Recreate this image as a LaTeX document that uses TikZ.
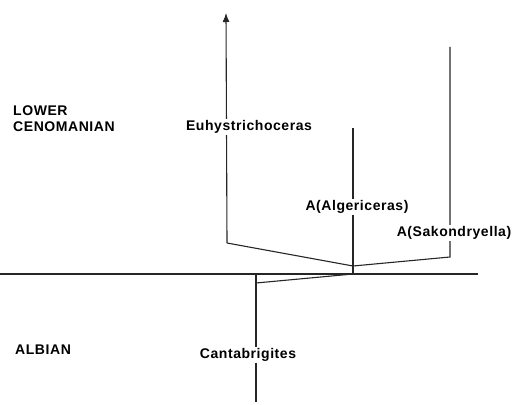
\documentclass[tikz,border=0pt]{standalone}
\usepackage{fontspec}
\setmainfont{Liberation Sans}[LetterSpace=4]
\usetikzlibrary{arrows.meta}
\begin{document}
\begin{tikzpicture}[
    x=1pt, y=-1pt,
    >={Latex[length=9pt,width=7pt]},
    font=\fontsize{14}{16}\selectfont\bfseries,
    lineage/.style={line width=1.1pt, black!85},
    taxon/.style={fill=white, inner sep=1pt, align=center},
    stage/.style={inner sep=0pt, align=left, anchor=west}
]
\useasboundingbox (0,0) rectangle (519,404);

% stage boundary
\coordinate (bndleft) at (0,274);
\coordinate (bndright) at (478,274);

% branch ends and junctions
\coordinate (euhytop) at (226,13);
\coordinate (euhybase) at (227,243);
\coordinate (algtop) at (353,128);
\coordinate (split) at (353,266);
\coordinate (algbase) at (353,274);
\coordinate (saktop) at (450,47);
\coordinate (sakbase) at (450,257);
\coordinate (cantop) at (256,274);
\coordinate (canfork) at (256,283);
\coordinate (canbottom) at (256,402);

\draw[lineage] (bndleft) -- (bndright);
\draw[lineage, ->] (euhybase) -- (euhytop);
\draw[lineage] (euhybase) -- (split);
\draw[lineage] (algtop) -- (algbase);
\draw[lineage] (saktop) -- (sakbase) -- (split);
\draw[lineage] (cantop) -- (canbottom);
\draw[lineage] (canfork) -- (algbase);

\node[stage] (cenoman) at (13,119) {LOWER\\CENOMANIAN};
\node[stage] (albian) at (15,350) {ALBIAN};

\node[taxon] (euhy) at (249,127) {Euhystrichoceras};
\node[taxon] (alg) at (357,207) {A(Algericeras)};
\node[taxon] (sak) at (454,233) {A(Sakondryella)};
\node[taxon] (cant) at (248,355) {Cantabrigites};
\end{tikzpicture}
\end{document}
